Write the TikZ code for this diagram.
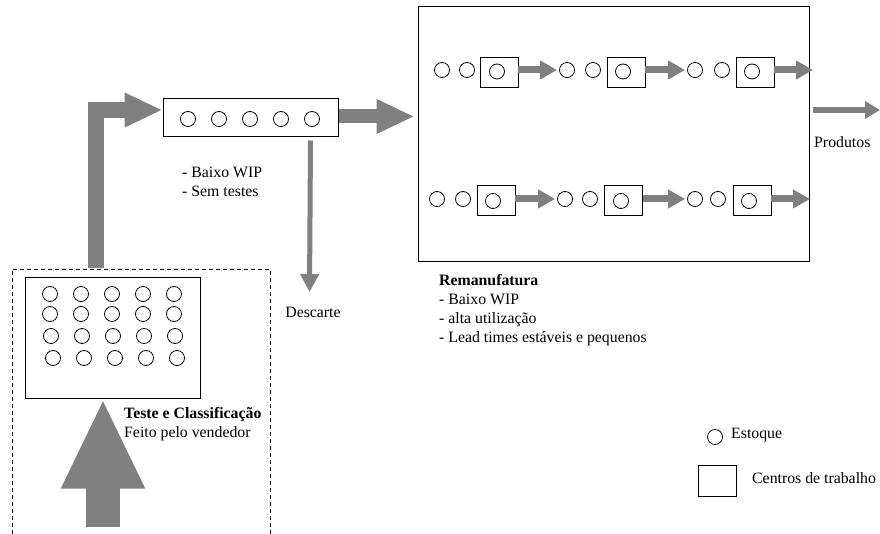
\documentclass[tikz,border=0pt]{standalone}
\usepackage{fontspec}
\setmainfont{Liberation Serif}
\usetikzlibrary{arrows.meta,calc}
\definecolor{flowgray}{RGB}{128,128,128}
\begin{document}
\begin{tikzpicture}[x=1pt,y=-1pt,
  stock/.style={circle,draw,line width=0.8pt,minimum size=15pt,inner sep=0pt},
  station/.style={draw,line width=0.9pt,minimum width=38pt,minimum height=30pt,inner sep=0pt},
  panel/.style={draw,line width=1pt,inner sep=0pt},
  flow/.style={draw=flowgray,line width=7pt,-{Triangle[length=17pt,width=18pt]}},
  txt/.style={font=\fontsize{15.8}{19}\selectfont,inner sep=0pt,align=left}]
\useasboundingbox (0,0) rectangle (880,534);

% supplier area (dashed, open at the bottom)
\draw[line width=0.9pt,dash pattern=on 4pt off 3pt] (12,534) -- (12,269) -- (270,269) -- (270,534);

% sorting box with its stock
\node[panel,minimum width=175pt,minimum height=120pt] (grid) at (112.5,338) {};
\foreach \r/\y/\dx in {1/294/0,2/314/0,3/336/1,4/358/3}
  \foreach \c/\x in {1/50,2/81,3/112,4/143,5/174}
    \node[stock] (g\r\c) at (\x+\dx,\y) {};

% buffer before remanufacturing
\node[panel,minimum width=175pt,minimum height=38pt] (buf) at (250.5,118) {};
\foreach \c/\x in {1/188,2/219,3/250,4/281,5/312}
  \node[stock] (b\c) at (\x,119) {};

% remanufacturing area
\node[panel,minimum width=391pt,minimum height=255pt] (remf) at (613.5,134.5) {};

% line 1
\node[stock] (a11) at (442,70) {};
\node[stock] (a12) at (467,70) {};
\node[station] (w1a) at (499,72) {};
\node[stock] (a13) at (497,71.5) {};
\node[stock] (a21) at (567,70) {};
\node[stock] (a22) at (593,70) {};
\node[station] (w1b) at (626,72) {};
\node[stock] (a23) at (623,71.5) {};
\node[stock] (a31) at (695,70) {};
\node[stock] (a32) at (722,70) {};
\node[station] (w1c) at (755,72) {};
\node[stock] (a33) at (752,71.5) {};
\coordinate (out1) at (813,70);
\draw[flow] (w1a.east |- a21) -- ([xshift=-2pt]a21.west);
\draw[flow] (w1b.east |- a31) -- ([xshift=-2pt]a31.west);
\draw[flow] (w1c.east |- out1) -- (out1);

% line 2
\node[stock] (d11) at (437,199) {};
\node[stock] (d12) at (463,199) {};
\node[station] (w2a) at (496,200.5) {};
\node[stock] (d13) at (493,201) {};
\node[stock] (d21) at (565,199) {};
\node[stock] (d22) at (590,199) {};
\node[station] (w2b) at (623.5,200.5) {};
\node[stock] (d23) at (621,201) {};
\node[stock] (d31) at (695,199) {};
\node[stock] (d32) at (718,199) {};
\node[station] (w2c) at (752,200.5) {};
\node[stock] (d33) at (749,201) {};
\coordinate (out2) at (810,199);
\draw[flow] (w2a.east |- d21) -- ([xshift=-2pt]d21.west);
\draw[flow] (w2b.east |- d31) -- ([xshift=-2pt]d31.west);
\draw[flow] (w2c.east |- out2) -- (out2);

% material flows
\coordinate (feed) at (103,527);
\draw[draw=flowgray,line width=34pt,-{Triangle[length=90pt,width=77pt]}] (feed) -- (feed |- grid.south);

\coordinate (rise) at (96,268);
\coordinate (elbow) at (96,110);
\draw[draw=flowgray,line width=16.5pt,line join=miter,-{Triangle[length=38pt,width=32pt]}]
  (rise) -- (elbow) -- (elbow -| buf.west);

\draw[draw=flowgray,line width=14pt,-{Triangle[length=38pt,width=32pt]},shorten >=3pt]
  ([yshift=1.5pt]buf.east) -- ([yshift=1.5pt]buf.east -| remf.west);

\coordinate (scrap) at (309.5,292);
\draw[draw=flowgray,line width=5pt,-{Triangle[length=18pt,width=18pt]}]
  ($(buf.south)+(60,3)$) -- (scrap);

\coordinate (prodin) at (813,110);
\coordinate (prodout) at (880,110);
\draw[draw=flowgray,line width=6pt,-{Triangle[length=15pt,width=17pt]}] (prodin) -- (prodout);

% labels
\node[txt,anchor=west] (tbuf) at (182,181.5) {- Baixo WIP\\- Sem testes};
\node[txt] (tscrap) at (313,312) {Descarte};
\node[txt,anchor=west] (tsort) at (124,424.5) {\textbf{Teste e Classificação}\\Feito pelo vendedor};
\node[txt,anchor=west] (trem) at (439,310.5) {\textbf{Remanufatura}\\- Baixo WIP\\- alta utilização\\- Lead times estáveis e pequenos};
\node[txt,anchor=west] (tprod) at (814,142) {Produtos};

% key
\node[stock] (kstock) at (715,437) {};
\node[txt,anchor=west] (tstock) at (731,435) {Estoque};
\node[station,minimum height=31pt] (kwork) at (717,480.5) {};
\node[txt,anchor=west] (twork) at (752,478) {Centros de trabalho};
\end{tikzpicture}
\end{document}
